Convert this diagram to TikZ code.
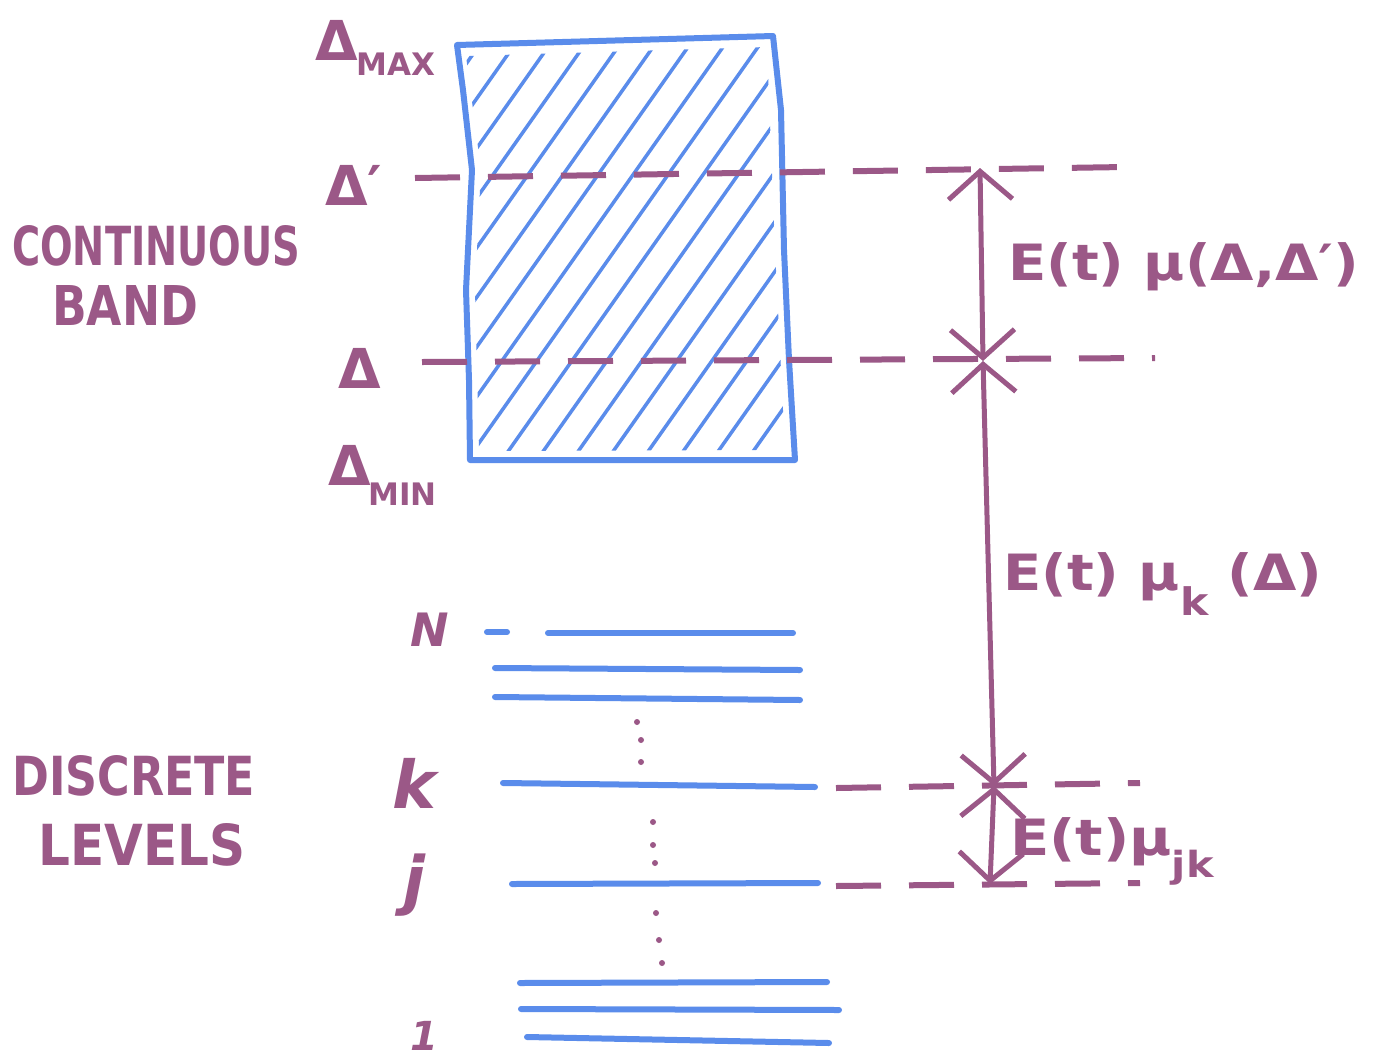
\documentclass[tikz,border=0pt]{standalone}
\usepackage{fontspec}
\setmainfont{DejaVu Sans}
\usetikzlibrary{arrows.meta}
\definecolor{pen}{RGB}{155,88,135}
\definecolor{ink}{RGB}{90,140,235}
\begin{document}
\begin{tikzpicture}[x=1pt,y=-1pt,
  lbl/.style={text=pen,inner sep=0pt,anchor=base west},
  bigf/.style={font=\fontsize{55}{60}\selectfont\bfseries},
  subf/.style={font=\fontsize{31}{34}\selectfont\bfseries},
  eqf/.style={font=\fontsize{50}{56}\selectfont\bfseries},
  bandedge/.style={draw=ink,line width=6pt,line join=round},
  hatch/.style={draw=ink,line width=3.5pt,line cap=round},
  level/.style={draw=ink,line width=6pt,line cap=round},
  guide/.style={draw=pen,line width=6pt,dash pattern=on 45pt off 28pt},
  dotty/.style={fill=pen},
  trans/.style={draw=pen,line width=5pt,
    {Straight Barb[length=28pt,width=64pt,line width=5pt]}-{Straight Barb[length=28pt,width=64pt,line width=5pt]}}]
\useasboundingbox (0,0) rectangle (1387,1061);
\fill[white] (0,0) rectangle (1387,1061);

% continuous band
\begin{scope}
  \clip (466,56) -- (767,47) -- (775,250) -- (785,450) -- (479,451) -- (475,290) -- (481,170) -- cycle;
  \foreach \x in {145,180,...,800} {
    \draw[hatch] (\x,470) -- ++(310,-440);
  }
\end{scope}
\draw[bandedge] (457,45) -- (773,36) -- (781,110) -- (784,250) -- (789,360) -- (795,460)
  -- (470,460) -- (469,380) -- (466,290) -- (472,170) -- (463,90) -- cycle;

% guide lines (band)
\coordinate (gdpL) at (415,178);
\coordinate (gdpR) at (1125,167);
\coordinate (gdL) at (422,362);
\coordinate (gdR) at (1155,358);
\draw[guide] (gdpL) -- (gdpR);
\draw[guide] (gdL) -- (gdR);

% discrete levels
\draw[level] (487,632) -- (507,632);
\draw[level] (548,633) -- (793,633);
\draw[level] (495,668) -- (800,670);
\draw[level] (495,697) -- (800,700);
\draw[level] (503,783) -- (815,787);
\draw[level] (512,884) -- (818,883);
\draw[level] (520,983) -- (827,982);
\draw[level] (521,1009) -- (839,1010);
\draw[level] (527,1037) -- (829,1043);

\foreach \p in {(637,722),(641,740),(641,762),(653,822),(653,845),(655,863),(656,913),(659,940),(662,963)}
  \fill[dotty] \p circle (3);

% guide lines (discrete)
\coordinate (gkL) at (836,788);
\coordinate (gkR) at (1140,783);
\coordinate (gjL) at (836,886);
\coordinate (gjR) at (1140,883);
\draw[guide] (gkL) -- (gkR);
\draw[guide] (gjL) -- (gjR);

% transition arrows
\coordinate (tdp) at (980,168);
\coordinate (td) at (983,361);
\coordinate (tk) at (994,786);
\coordinate (tj) at (990,884);
\draw[trans] (tdp) -- (td);
\draw[trans] (td) -- (tk);
\draw[trans] (tk) -- (tj);

% band labels
\node[lbl,bigf] (dmax) at (315,60) {Δ};
\node[lbl,subf] (dmaxs) at (356,75) {MAX};
\node[lbl,bigf] (dprime) at (325,205) {Δ′};
\node[lbl,bigf] (delta) at (338,388) {Δ};
\node[lbl,bigf] (dmin) at (328,485) {Δ};
\node[lbl,subf] (dmins) at (368,505) {MIN};

\node[lbl,font=\bfseries] (cont) at (12,265) {\resizebox{288pt}{40pt}{CONTINUOUS}};
\node[lbl,font=\bfseries] (band) at (52,325) {\resizebox{146pt}{40pt}{BAND}};
\node[lbl,font=\bfseries] (disc) at (12,795) {\resizebox{243pt}{40pt}{DISCRETE}};
\node[lbl,font=\bfseries] (lev) at (38,865) {\resizebox{207pt}{42pt}{LEVELS}};

% level labels
\node[lbl,font=\fontsize{46}{50}\selectfont\bfseries\itshape] (lN) at (410,646) {N};
\node[lbl,font=\fontsize{66}{70}\selectfont\bfseries\itshape] (lk) at (392,808) {k};
\node[lbl,font=\fontsize{64}{70}\selectfont\bfseries\itshape] (lj) at (403,902) {j};
\node[lbl,font=\fontsize{40}{44}\selectfont\bfseries\itshape] (l1) at (410,1050) {1};

% coupling labels
\node[lbl,eqf] (cdd) at (1008,280) {\scalebox{1.12}[1]{E(t) μ(Δ,Δ′)}};
\node[lbl,eqf] (ckd) at (1003,590) {\scalebox{1.12}[1]{E(t) μ\raisebox{-0.5em}{\fontsize{38}{40}\selectfont k} (Δ)}};
\node[lbl,eqf] (cjk) at (1010,855) {\scalebox{1.15}[1]{E(t)μ\raisebox{-0.45em}{\fontsize{36}{38}\selectfont jk}}};
\end{tikzpicture}
\end{document}
